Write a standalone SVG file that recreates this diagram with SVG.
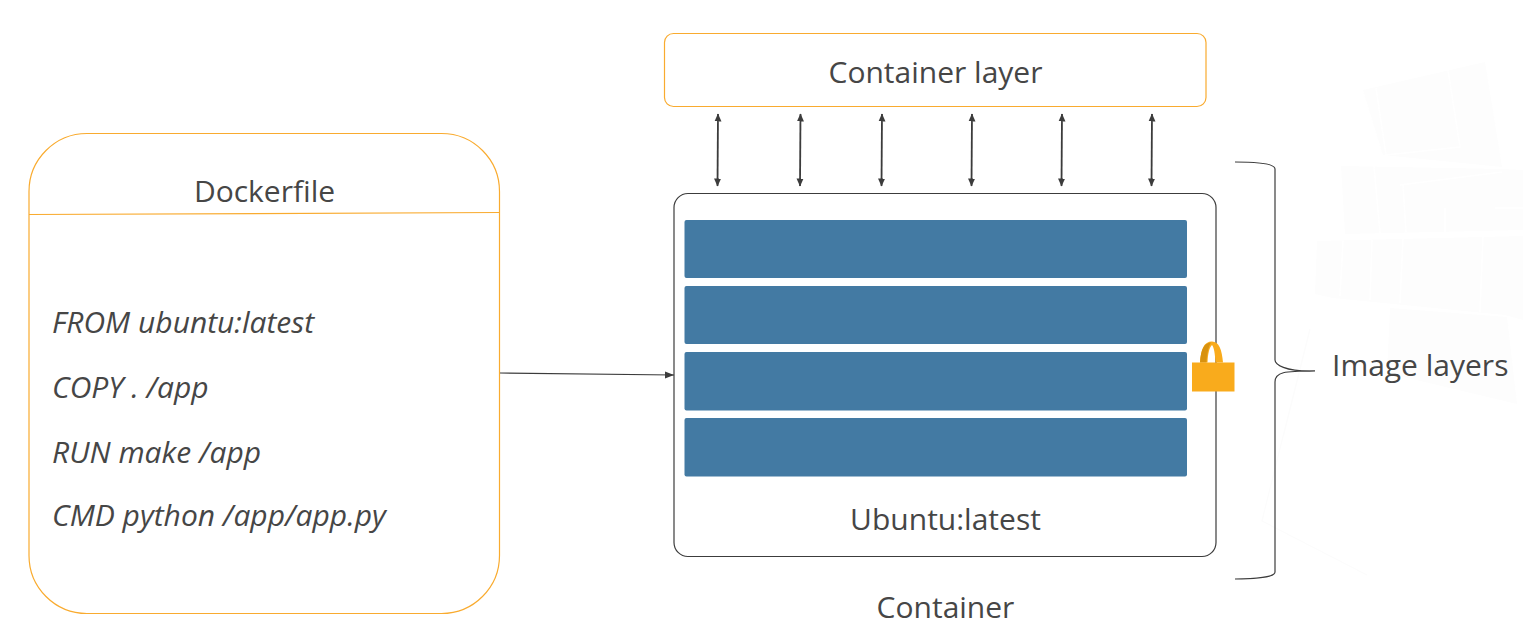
<svg xmlns="http://www.w3.org/2000/svg" width="1523" height="629" viewBox="0 0 1523 629">
<style>
.t{font-family:"Open Sans","Noto Sans",sans-serif;font-size:30px;fill:#464646}
.i{font-style:italic}
.o{fill:#fff;stroke:#f9ab2f;stroke-width:1.2}
.b{fill:#437aa3}
.c{fill:none;stroke:#3c3c3c;stroke-width:1.2}
.w{fill:#fdfdfd}
.g{fill:none;stroke:#fff;stroke-width:1.5}
.a{fill:none;stroke:#3c3c3c;stroke-width:1.8;marker-start:url(#h);marker-end:url(#h)}
</style>
<defs>
<marker id="h" markerWidth="9" markerHeight="9" refX="7.500" refY="3.500" orient="auto-start-reverse" markerUnits="userSpaceOnUse"><path d="M0 0L8 3.500L0 7Z" fill="#3c3c3c"/></marker>
<marker id="e" markerWidth="10" markerHeight="9" refX="9" refY="3.500" orient="auto" markerUnits="userSpaceOnUse"><path d="M0 0L9 3.500L0 7Z" fill="#3c3c3c"/></marker>
</defs>
<g id="watermark">
<path class="w" d="M1363 90L1485 62L1502 167L1383 155Z"/>
<path class="w" d="M1341 166L1502 169L1523 170V230L1345 234Z"/>
<path class="w" d="M1317 241L1523 236V320L1505 315L1333 298L1315 294Z"/>
<path class="w" d="M1390 308L1507 317L1517 404L1387 373Z"/>
<path class="g" d="M1376 88L1386 155M1448 70L1460 147L1386 155M1374 166L1380 233M1400 185L1502 172M1403 185L1406 232M1445 208V232M1495 208L1523 208M1343 241L1340 296M1372 240L1370 300M1403 238L1400 303M1483 236L1480 312"/>
<path d="M1310 329L1262 521L1367 575" fill="none" stroke="#fcfcfc" stroke-width="1.2"/>
</g>
<g id="dockerfile">
<rect class="o" x="29" y="133.500" width="470.500" height="480" rx="58"/>
<path class="o" d="M29 214.500L500 212.500"/>
<text class="t" x="264.500" y="202" text-anchor="middle">Dockerfile</text>
<text class="t i" x="52" y="333">FROM ubuntu:latest</text>
<text class="t i" x="52" y="398">COPY . /app</text>
<text class="t i" x="52" y="463">RUN make /app</text>
<text class="t i" x="52" y="526">CMD python /app/app.py</text>
</g>
<g id="container-layer">
<rect class="o" x="664.500" y="33.500" width="541.500" height="73" rx="9"/>
<text class="t" x="935.500" y="83" text-anchor="middle">Container layer</text>
</g>
<g id="ubuntu">
<rect x="674" y="193.500" width="542" height="363" rx="14" fill="#fff" stroke="#3c3c3c" stroke-width="1.2"/>
<rect class="b" x="684.500" y="220" width="502.500" height="58" rx="2"/>
<rect class="b" x="684.500" y="286" width="502.500" height="58" rx="2"/>
<rect class="b" x="684.500" y="352" width="502.500" height="58.500" rx="2"/>
<rect class="b" x="684.500" y="418" width="502.500" height="58.500" rx="2"/>
<text class="t" x="945.500" y="530" text-anchor="middle">Ubuntu:latest</text>
</g>
<g id="lock">
<path d="M1200 362.500C1201 349 1204 341.500 1212 341.500C1219 341.500 1222 350 1223 362.500H1215.500C1215 354 1214 347 1212 345C1209 348 1208 354 1207.500 362.500Z" fill="#f9ab1c"/>
<path d="M1200 362.500C1201 349 1204 343 1211 342.500C1208 348 1207 354 1206.500 362.500Z" fill="#d8920f"/>
<rect x="1192" y="362.500" width="42.500" height="29" fill="#f9ab1c"/>
</g>
<g id="image-layers-brace">
<path class="c" d="M1235 162C1255 162 1275 163.500 1275 169V360C1275 364 1284 372 1315 371C1284 371 1275 372 1275 382V572C1275 577 1255 579 1235 579"/>
<text class="t" x="1332" y="376">Image layers</text>
</g>
<text class="t" x="945.500" y="618" text-anchor="middle">Container</text>
<g id="connectors">
<path class="a" d="M718 114L717.500 186"/>
<path class="a" d="M800.500 114L800 186"/>
<path class="a" d="M882 114L881.500 186"/>
<path class="a" d="M972 114L971.500 186"/>
<path class="a" d="M1062 114L1061.500 186"/>
<path class="a" d="M1152 114L1151.500 186"/>
<path class="c" d="M500 373L674 375" marker-end="url(#e)"/>
</g>
</svg>
